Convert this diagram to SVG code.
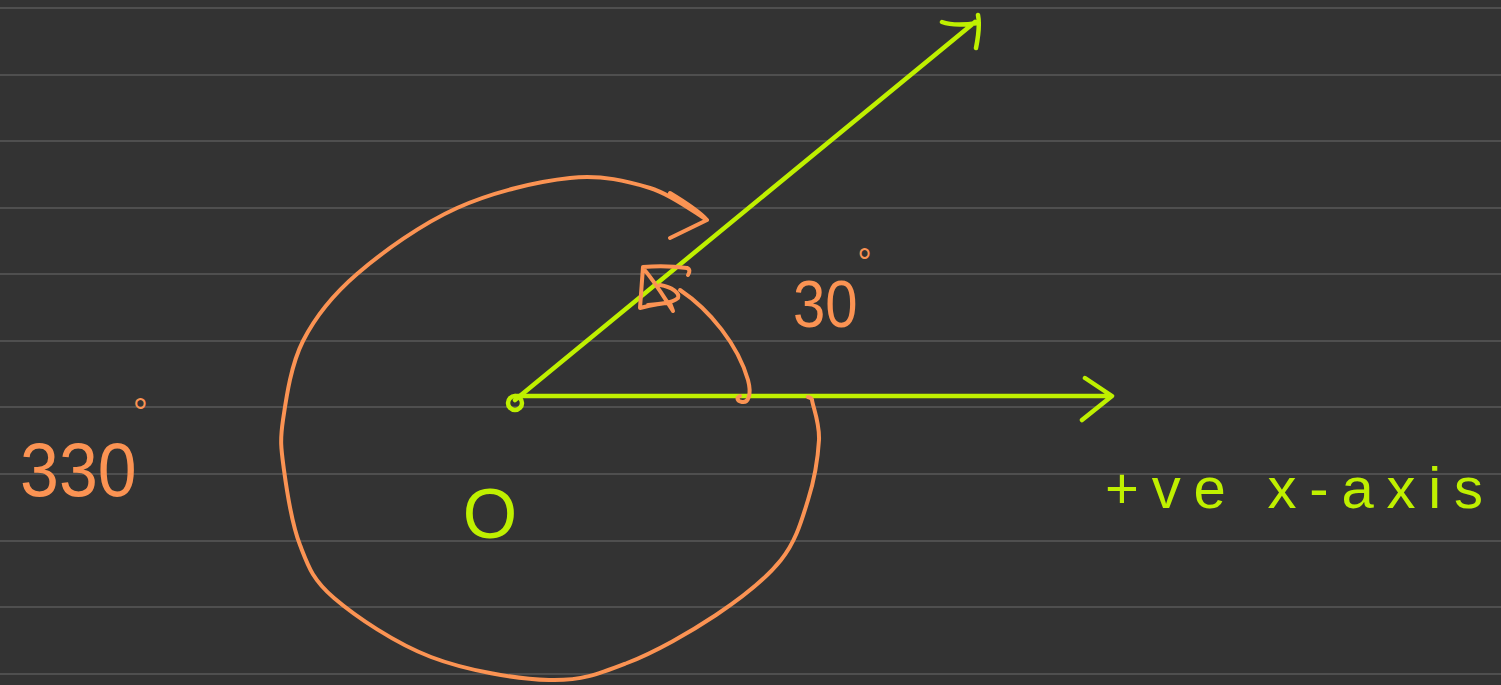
<svg xmlns="http://www.w3.org/2000/svg" width="1501" height="685" viewBox="0 0 1501 685">
<style>
.rule{stroke:#5a5a5a;stroke-width:1.5}
.g{fill:none;stroke:#bff000;stroke-width:4.5;stroke-linecap:round;stroke-linejoin:round}
.o{fill:none;stroke:#fb9353;stroke-width:4;stroke-linecap:round;stroke-linejoin:round}
.tg{fill:#bff000;font-family:"Liberation Sans",Arial,sans-serif}
.to{fill:#fb9353;font-family:"Liberation Sans",Arial,sans-serif}
</style>
<rect width="1501" height="685" fill="#333333"/>
<g id="ruled-lines">
<line class="rule" x1="0" y1="8" x2="1501" y2="8"/>
<line class="rule" x1="0" y1="75" x2="1501" y2="75"/>
<line class="rule" x1="0" y1="141" x2="1501" y2="141"/>
<line class="rule" x1="0" y1="208" x2="1501" y2="208"/>
<line class="rule" x1="0" y1="274" x2="1501" y2="274"/>
<line class="rule" x1="0" y1="341" x2="1501" y2="341"/>
<line class="rule" x1="0" y1="407" x2="1501" y2="407"/>
<line class="rule" x1="0" y1="474" x2="1501" y2="474"/>
<line class="rule" x1="0" y1="541" x2="1501" y2="541"/>
<line class="rule" x1="0" y1="607" x2="1501" y2="607"/>
<line class="rule" x1="0" y1="674" x2="1501" y2="674"/>
</g>
<g id="connectors">
<path class="g" d="M515 396 L1110 396 M1085 378 L1112 396 L1082 420"/>
<path class="g" d="M515 400 L975 22 M942 22 C950 25 965 25 978 23 M978 15 C980 25 978 38 976 48"/>
<path class="o" d="M808 397 C811 398 812 399 812 400 C813 407 819.7 423 819 440 C818 457 814.3 480 808 500 C801.7 520 796.3 540.8 781 560 C765.7 579.2 741.7 597.8 716 615 C690.3 632.2 654.8 652.2 627 663 C599.2 673.8 581.7 681 549 680 C516.3 679 466.8 670.7 431 657 C395.2 643.3 355.8 616.7 334 598 C312.2 579.3 308.3 566.3 300 545 C291.7 523.7 286.8 490.8 284 470 C281.2 449.2 279.8 441.5 283 420 C286.2 398.5 290.7 365.3 303 341 C315.3 316.7 331.3 296.2 357 274 C382.7 251.8 421.5 224 457 208 C492.5 192 537.8 181.3 570 178 C602.2 174.7 627.2 181 650 188 C672.8 195 697.5 214.7 707 220 M670 193 C685 202 698 210 707 220 L670 238"/>
<path class="o" d="M680 290 C710 310 738 345 748 380 C752 395 748 403 742 402 C737 401 736 398 740 396"/>
<path class="o" d="M687 268 C672 266 656 266 643 267 C642 280 641 295 640 308 C652 305 662 303 670 303 L673 311 M643 268 C655 282 662 294 673 311 M660 285 C672 287 680 293 678 298 C672 303 660 304 648 305 M687 268 C690 269 690 272 688 275"/>
</g>
<g id="origin">
<circle class="g" cx="515" cy="403" r="7"/>
<text class="tg" x="490" y="538" font-size="70" text-anchor="middle">O</text>
</g>
<g id="label-30">
<text class="to" transform="translate(793,327) scale(0.88,1)" x="0" y="0" font-size="66">30<tspan dx="0" dy="-51" font-size="40">°</tspan></text>
</g>
<g id="label-330">
<text class="to" transform="translate(20,496) scale(0.92,1)" x="0" y="0" font-size="76">330<tspan dx="-4" dy="-70" font-size="40">°</tspan></text>
</g>
<g id="label-axis">
<text class="tg" x="1105" y="508" font-size="58" textLength="378" lengthAdjust="spacing">+ve x-axis</text>
</g>
</svg>
